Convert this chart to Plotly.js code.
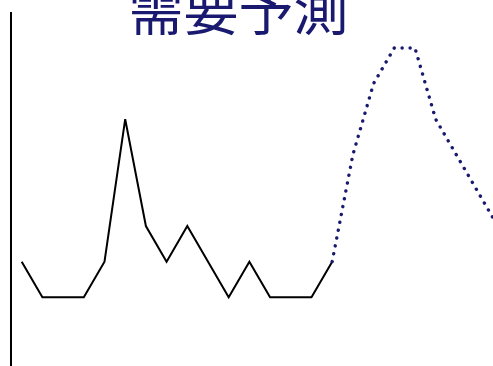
<!DOCTYPE html>
<html>
<head>
<meta charset="utf-8">
<script src="https://cdn.plot.ly/plotly-3.0.1.min.js"></script>
<style>
html,body{margin:0;padding:0;background:#fff;overflow:hidden;}
#chart{width:493px;height:366px;}
.scatterlayer .trace:nth-child(2) path.js-line{stroke-linecap:round;}
</style>
</head>
<body>
<div id="chart"></div>
<script>
// Actual demand (solid) and forecast (dotted)
const actualX = [0,1,2,3,4,5,6,7,8,9,10,11,12,13,14,15];
const actualY = [2,1,1,1,2,6,3,2,3,2,1,2,1,1,1,2];
const forecastX = [15,16,17,18,19,20,21,22,23];
const forecastY = [2,5,7,8,8,6,5,4,3];
const titleText = "需要予測";

const traces = [
  {x: actualX, y: actualY, type: 'scatter', mode: 'lines',
   line: {color: '#000000', width: 2}, hoverinfo: 'skip'},
  {x: forecastX, y: forecastY, type: 'scatter', mode: 'lines',
   line: {color: '#191970', width: 3.4, dash: '0.1px,7.9px'}, hoverinfo: 'skip'}
];

const layout = {
  width: 493, height: 366,
  margin: {l: 12, r: 0, t: 12, b: 0, pad: 0},
  paper_bgcolor: '#ffffff', plot_bgcolor: '#ffffff',
  showlegend: false,
  title: {text: titleText, font: {family: '"Noto Sans CJK JP", sans-serif', size: 55, color: '#191970'},
          x: 0.484, xref: 'container', xanchor: 'center',
          y: 1 - 30/366, yref: 'container', yanchor: 'bottom'},
  xaxis: {range: [-0.469, 22.77], showline: false, showgrid: false, zeroline: false,
          showticklabels: false, ticks: ''},
  yaxis: {range: [-0.93, 9.01], showline: true, linecolor: '#000000', linewidth: 2,
          showgrid: false, zeroline: false, showticklabels: false, ticks: ''}
};

Plotly.newPlot('chart', traces, layout, {staticPlot: true, displayModeBar: false});
</script>
</body>
</html>
